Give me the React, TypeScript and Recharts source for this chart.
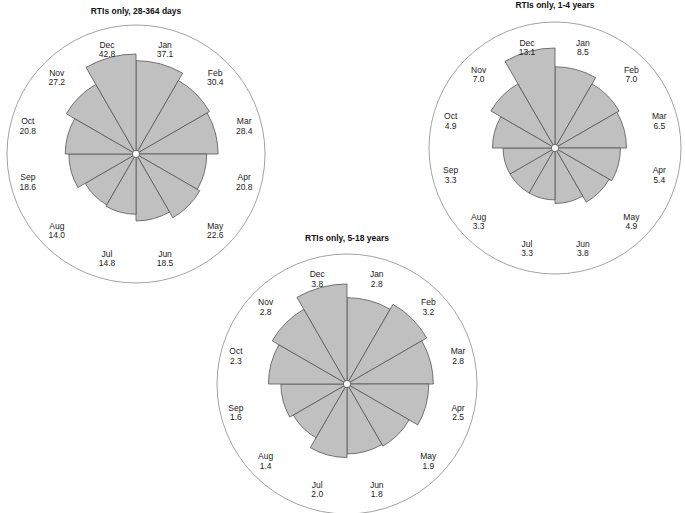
import React from 'react';
import { RadialBarChart, RadialBar, PolarAngleAxis, PolarRadiusAxis, PolarGrid } from 'recharts';

const months = ['Jan', 'Feb', 'Mar', 'Apr', 'May', 'Jun', 'Jul', 'Aug', 'Sep', 'Oct', 'Nov', 'Dec'];
const days28to364 = [37.1, 30.4, 28.4, 20.8, 22.6, 18.5, 14.8, 14.0, 18.6, 20.8, 27.2, 42.8];
const years1to4 = [8.5, 7.0, 6.5, 5.4, 4.9, 3.8, 3.3, 3.3, 3.3, 4.9, 7.0, 13.1];
const years5to18 = [2.8, 3.2, 2.8, 2.5, 1.9, 1.8, 2.0, 1.4, 1.6, 2.3, 2.8, 3.8];

const FONT = '"Liberation Sans", Arial, Helvetica, sans-serif';
const RAD = Math.PI / 180;
const BAND = 360 / months.length;

function MonthTick(props: any) {
  const { cx, cy, payload, index, values, rx, ry } = props;
  const ang = payload.coordinate + BAND / 2;
  const x = cx + rx * Math.cos(-ang * RAD);
  const y = cy + ry * Math.sin(-ang * RAD);
  const v = values[index];
  return (
    <g>
      <text x={x} y={y - 4.6} textAnchor="middle" dominantBaseline="central" fontSize={8.5} fontFamily={FONT} fill="#222">
        {payload.value}
      </text>
      <text x={x} y={y + 4.8} textAnchor="middle" dominantBaseline="central" fontSize={8.5} fontFamily={FONT} fill="#222">
        {v.toFixed(1)}
      </text>
    </g>
  );
}

function Rose(props: {
  values: number[];
  left: number;
  top: number;
  width: number;
  height: number;
  cx: number;
  cy: number;
  ring: number;
  rx: number;
  ry: number;
}) {
  const { values, left, top, width, height, cx, cy, ring, rx, ry } = props;
  const data = months.map((m, i) => ({ month: m, value: values[i] }));
  const max = Math.max(...values);
  return (
    <div style={{ position: 'absolute', left, top, width, height }}>
      <RadialBarChart
        width={width}
        height={height}
        cx={cx}
        cy={cy}
        data={data}
        layout="centric"
        innerRadius={3.5}
        outerRadius={100}
        startAngle={90 - BAND}
        endAngle={-270 - BAND}
        barCategoryGap={0}
        barGap={0}
        margin={{ top: 0, right: 0, bottom: 0, left: 0 }}
      >
        <PolarGrid gridType="circle" polarRadius={[ring]} radialLines={false} stroke="#8a8a8a" strokeWidth={0.8} />
        <PolarAngleAxis
          dataKey="month"
          type="category"
          axisLine={false}
          tickLine={false}
          tick={<MonthTick values={values} rx={rx} ry={ry} />}
        />
        <PolarRadiusAxis type="number" scale="sqrt" domain={[0, max]} tick={false} axisLine={false} />
        <RadialBar dataKey="value" fill="#c0c0c0" stroke="#555" strokeWidth={0.8} isAnimationActive={false} />
      </RadialBarChart>
    </div>
  );
}

function Title(props: { text: string; x: number; y: number }) {
  return (
    <div
      style={{
        position: 'absolute',
        left: props.x - 100,
        top: props.y - 6,
        width: 200,
        height: 12,
        lineHeight: '12px',
        textAlign: 'center',
        fontFamily: FONT,
        fontWeight: 'bold',
        fontSize: 8.5,
        color: '#111',
      }}
    >
      {props.text}
    </div>
  );
}

export default function App() {
  return (
    <div style={{ position: 'absolute', left: 0, top: 0, width: 685, height: 513, overflow: 'hidden', background: '#fff' }}>
      <Rose values={days28to364} left={0} top={0} width={280} height={290} cx={136} cy={154} ring={129} rx={112} ry={108} />
      <Rose values={years1to4} left={410} top={0} width={275} height={290} cx={145} cy={148} ring={126} rx={108} ry={104} />
      <Rose values={years5to18} left={200} top={230} width={290} height={283} cx={147} cy={154} ring={130} rx={115} ry={109} />
      <Title text="RTIs only, 28-364 days" x={136} y={10.5} />
      <Title text="RTIs only, 1-4 years" x={555} y={5} />
      <Title text="RTIs only, 5-18 years" x={347} y={238} />
    </div>
  );
}
